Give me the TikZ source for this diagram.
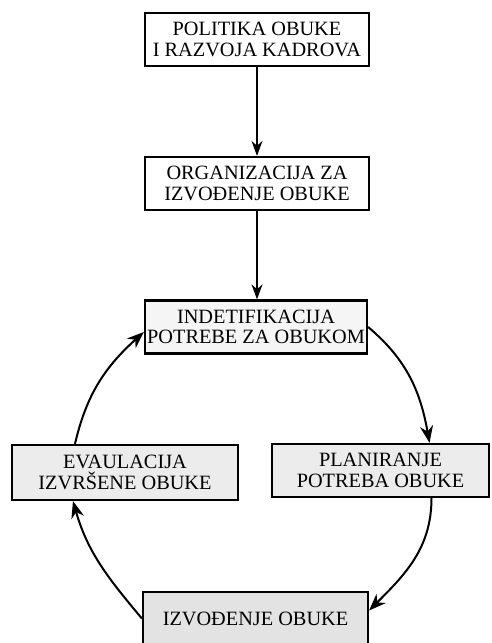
\documentclass[tikz,border=0pt]{standalone}
\usepackage{fontspec}
\setmainfont{Liberation Serif}
\usetikzlibrary{arrows.meta}

\begin{document}
\begin{tikzpicture}[x=1pt,y=1pt,
  box/.style={draw, line width=2.2pt, align=center, inner xsep=1pt, inner ysep=2pt,
    minimum height=53pt, font=\fontsize{20.3}{20.5}\selectfont},
  link/.style={line width=1.7pt, -{Stealth[length=15pt,width=11pt]}},
  cyc/.style={line width=2pt, -{Stealth[length=17pt,width=13pt]}}]
\useasboundingbox (0,0) rectangle (492,643);
\clip (0,0) rectangle (492,643);
\node[box, minimum width=224pt] (politika) at (257,603.5) {POLITIKA OBUKE\\I RAZVOJA KADROVA};
\node[box, minimum width=224pt] (organizacija) at (257,459.5) {ORGANIZACIJA ZA\\IZVOĐENJE OBUKE};
\node[box, minimum width=222pt, fill=gray!8] (ident) at (256,316) {INDETIFIKACIJA\\POTREBE ZA OBUKOM};
\node[box, minimum width=226pt, minimum height=55pt, fill=gray!15] (evaluacija) at (125,170.5) {EVAULACIJA\\IZVRŠENE OBUKE};
\node[box, minimum width=217pt, fill=gray!15] (planiranje) at (380.5,172.5) {PLANIRANJE\\POTREBA OBUKE};
\node[box, minimum width=225pt, fill=gray!22] (izvodjenje) at (255.5,24.5) {IZVOĐENJE OBUKE};
% vertical flow
\draw[link] (politika) -- (organizacija);
\draw[link] (organizacija.south) -- (organizacija.south |- ident.north);
% cycle
\draw[cyc] (ident.east) to[out=-40,in=100] ([xshift=49pt]planiranje.north);
\draw[cyc] ([xshift=51pt]planiranje.south) to[out=-90,in=45] ([yshift=8pt]izvodjenje.east);
\draw[cyc] (izvodjenje.west) to[out=130,in=-74] ([xshift=-52pt]evaluacija.south);
\draw[cyc] ([xshift=-50pt]evaluacija.north) to[out=77,in=-138] ([yshift=-5pt]ident.west);
\end{tikzpicture}
\end{document}
